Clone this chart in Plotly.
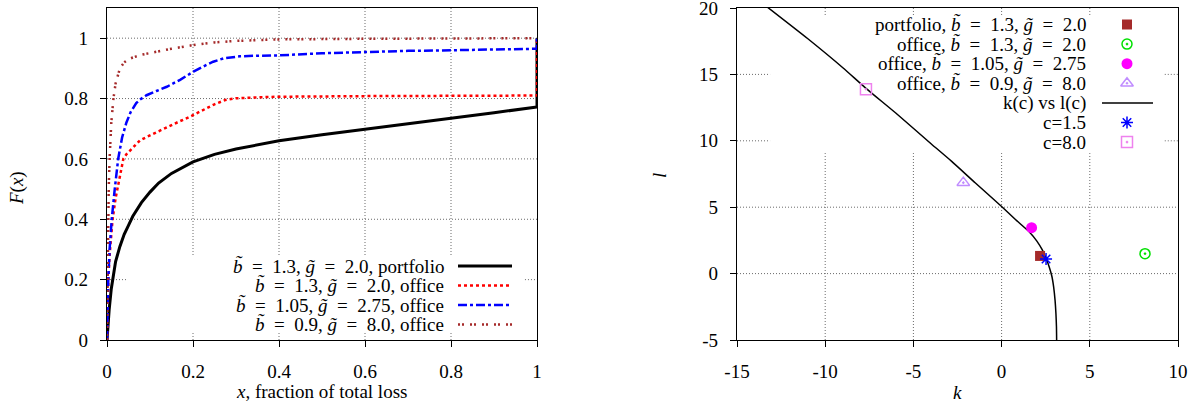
import plotly.graph_objects as go

W, H = 1203, 408
FONT = "Liberation Serif"
FS = 19
EQ = "\u2002=\u2002"  # wide spacing around "=" as in typeset math

# ---------------- left panel: F(x) curves ----------------
x_portfolio = [0, 0.002, 0.005, 0.01, 0.015, 0.02, 0.03, 0.04, 0.05, 0.06, 0.08, 0.1, 0.12,
               0.15, 0.2, 0.25, 0.3, 0.35, 0.4, 0.5, 0.6, 0.7, 0.8, 0.9, 1.0, 1.0]
F_portfolio = [0, 0.05, 0.1, 0.17, 0.22, 0.26, 0.31, 0.35, 0.38, 0.41, 0.455, 0.49, 0.52,
               0.552, 0.59, 0.615, 0.633, 0.647, 0.66, 0.68, 0.698, 0.715, 0.735, 0.753, 0.772, 1.0]

x_office_a = [0, 0.001, 0.003, 0.006, 0.01, 0.013, 0.02, 0.03, 0.038, 0.045, 0.053, 0.065,
              0.077, 0.1, 0.12, 0.139, 0.165, 0.193, 0.22, 0.25, 0.275, 0.3, 0.35, 0.4, 0.6,
              0.8, 1.0, 1.0]
F_office_a = [0, 0.08, 0.2, 0.28, 0.36, 0.4, 0.47, 0.55, 0.6, 0.615, 0.627, 0.647, 0.662,
              0.678, 0.692, 0.706, 0.722, 0.74, 0.76, 0.781, 0.795, 0.801, 0.804, 0.806, 0.808,
              0.809, 0.81, 1.0]

x_office_b = [0, 0.001, 0.003, 0.006, 0.011, 0.018, 0.026, 0.035, 0.045, 0.055, 0.061, 0.068,
              0.077, 0.092, 0.115, 0.139, 0.17, 0.201, 0.225, 0.247, 0.271, 0.309, 0.35, 0.4,
              0.5, 0.6, 0.7, 0.8, 0.9, 1.0, 1.0]
F_office_b = [0, 0.08, 0.2, 0.3, 0.4, 0.5, 0.6, 0.67, 0.72, 0.755, 0.77, 0.785, 0.797, 0.811,
              0.825, 0.839, 0.862, 0.889, 0.907, 0.922, 0.933, 0.94, 0.942, 0.943, 0.95, 0.955,
              0.958, 0.96, 0.963, 0.965, 1.0]

x_office_c = [0, 0.001, 0.002, 0.004, 0.006, 0.01, 0.015, 0.02, 0.03, 0.04, 0.05, 0.06, 0.08,
              0.1, 0.15, 0.2, 0.25, 0.3, 0.4, 0.6, 0.8, 1.0]
F_office_c = [0, 0.2, 0.35, 0.5, 0.6, 0.72, 0.8, 0.85, 0.9, 0.92, 0.93, 0.936, 0.945, 0.951,
              0.965, 0.977, 0.986, 0.991, 0.996, 0.998, 0.999, 1.0]

left_labels = [
    "<i>b\u0303</i>" + EQ + "1.3, <i>g\u0303</i>" + EQ + "2.0, portfolio",
    "<i>b\u0303</i>" + EQ + "1.3, <i>g\u0303</i>" + EQ + "2.0, office",
    "<i>b\u0303</i>" + EQ + "1.05, <i>g\u0303</i>" + EQ + "2.75, office",
    "<i>b\u0303</i>" + EQ + "0.9, <i>g\u0303</i>" + EQ + "8.0, office",
]
left_x = [x_portfolio, x_office_a, x_office_b, x_office_c]
left_F = [F_portfolio, F_office_a, F_office_b, F_office_c]
left_lines = [
    dict(color="#000000", width=3, dash="solid"),
    dict(color="#ff0000", width=2.5, dash="dot"),
    dict(color="#0000ff", width=2.5, dash="dashdot"),
    dict(color="#a52a2a", width=2.5, dash="2px,2px,2px,6px"),
]
left_ticks = [0, 0.2, 0.4, 0.6, 0.8, 1]
left_ticktext = ["0", "0.2", "0.4", "0.6", "0.8", "1"]

# ---------------- right panel: k vs l ----------------
k_curve = [-13.36, -11, -9, -7.69, -6, -4, -2.83, -1.5, 0, 0.8, 1.6, 2.0, 2.3, 2.52, 2.7,
           2.85, 2.95, 3.03, 3.08, 3.11, 3.12]
l_curve = [20.15, 17.7, 15.5, 13.95, 12.09, 9.78, 8.45, 6.84, 5.05, 4.05, 3.1, 2.45, 1.8, 1.15,
           0.5, -0.2, -1.0, -2.0, -3.0, -4.0, -5.0]

point_labels = [
    "portfolio, <i>b\u0303</i>" + EQ + "1.3, <i>g\u0303</i>" + EQ + "2.0",
    "office, <i>b\u0303</i>" + EQ + "1.3, <i>g\u0303</i>" + EQ + "2.0",
    "office, <i>b\u0303</i>" + EQ + "1.05, <i>g\u0303</i>" + EQ + "2.75",
    "office, <i>b\u0303</i>" + EQ + "0.9, <i>g\u0303</i>" + EQ + "8.0",
]
point_k = [2.18, 8.13, 1.70, -2.17]
point_l = [1.33, 1.5, 3.46, 6.85]

c_labels = ["c=1.5", "c=8.0"]
c_k = [2.52, -7.69]
c_l = [1.1, 13.88]

curve_label = "k(c) vs l(c)"

point_styles = [
    dict(symbol="square", color="#a52a2a", size=10, line=dict(width=0)),
    dict(symbol="circle-open-dot", color="#00e000", size=10, line=dict(width=1.5)),
    dict(symbol="circle", color="#ff00ff", size=11, line=dict(width=0)),
    dict(symbol="triangle-up-open-dot", color="#c08cff", size=11, line=dict(width=1.5)),
]
c_styles = [
    dict(symbol="asterisk-open", color="#0000ff", size=10, line=dict(width=1.5)),
    dict(symbol="square-open-dot", color="#ee82ee", size=11, line=dict(width=1.5)),
]
right_xticks = [-15, -10, -5, 0, 5, 10]
right_xtext = ["-15", "-10", "-5", "0", "5", "10"]
right_yticks = [-5, 0, 5, 10, 15, 20]
right_ytext = ["-5", "0", "5", "10", "15", "20"]

# ---------------- layout geometry (pixels) ----------------
L_X0, L_X1 = 107, 537
R_X0, R_X1 = 737, 1178
P_Y0, P_Y1 = 8, 340
L_XR, L_YR = [0, 1], [0, 1.1]
R_XR, R_YR = [-15, 10], [-5, 20]

# key boxes in axis-domain fractions: (x0, x1, y0, y1); the grid is not drawn inside them
LEFT_BOX = (0.0465, 0.972, 0.021, 0.256)
RIGHT_BOX = (0.075, 0.970, 0.563, 0.979)


def fx(px):
    return px / W


def fy(py):
    return 1 - py / H


def px_to_data(px, py, x0, x1, xr, yr):
    """Convert a page pixel inside a panel to that panel's data coordinates."""
    dx = xr[0] + (px - x0) / (x1 - x0) * (xr[1] - xr[0])
    dy = yr[0] + (P_Y1 - py) / (P_Y1 - P_Y0) * (yr[1] - yr[0])
    return dx, dy


fig = go.Figure()


# ---------------- dotted grid, broken around the key box ----------------
def add_grid(xa, ya, xticks, xr, yticks, yr, box):
    bx0, bx1, by0, by1 = box
    style = dict(color="#6a6a6a", width=1, dash="1px,2px")

    def dx(f):
        return xr[0] + f * (xr[1] - xr[0])

    def dy(f):
        return yr[0] + f * (yr[1] - yr[0])

    for t in xticks:
        f = (t - xr[0]) / (xr[1] - xr[0])
        if f <= 0.001 or f >= 0.999:
            continue
        segs = [(0, 1)] if not (bx0 < f < bx1) else [(0, by0), (by1, 1)]
        for s0, s1 in segs:
            fig.add_trace(go.Scatter(x=[t, t], y=[dy(s0), dy(s1)], mode="lines", line=style,
                                     xaxis=xa, yaxis=ya, showlegend=False, hoverinfo="skip"))
    for t in yticks:
        f = (t - yr[0]) / (yr[1] - yr[0])
        if f <= 0.001 or f >= 0.999:
            continue
        segs = [(0, 1)] if not (by0 < f < by1) else [(0, bx0), (bx1, 1)]
        for s0, s1 in segs:
            fig.add_trace(go.Scatter(x=[dx(s0), dx(s1)], y=[t, t], mode="lines", line=style,
                                     xaxis=xa, yaxis=ya, showlegend=False, hoverinfo="skip"))


add_grid("x", "y", left_ticks, L_XR, left_ticks, L_YR, LEFT_BOX)
add_grid("x2", "y2", right_xticks, R_XR, right_yticks, R_YR, RIGHT_BOX)

for xs, Fs, ln in zip(left_x, left_F, left_lines):
    fig.add_trace(go.Scatter(x=xs, y=Fs, mode="lines", line=ln, xaxis="x", yaxis="y",
                             showlegend=False, hoverinfo="skip"))

fig.add_trace(go.Scatter(x=k_curve, y=l_curve, mode="lines",
                         line=dict(color="black", width=1.5, shape="spline", smoothing=0.5),
                         xaxis="x2", yaxis="y2", showlegend=False, hoverinfo="skip"))
for k, l, st in zip(point_k, point_l, point_styles):
    fig.add_trace(go.Scatter(x=[k], y=[l], mode="markers", marker=st, xaxis="x2", yaxis="y2",
                             showlegend=False, hoverinfo="skip"))
for k, l, st in zip(c_k, c_l, c_styles):
    fig.add_trace(go.Scatter(x=[k], y=[l], mode="markers", marker=st, xaxis="x2", yaxis="y2",
                             showlegend=False, hoverinfo="skip"))

# ---------------- keys (text right-aligned, sample to the right) ----------------
annotations = []
key_font = dict(family=FONT, size=FS, color="black")

# left key
lk_top, lk_row, lk_text_r, lk_s0, lk_s1 = 266, 19.5, 446, 458, 512
for i, (lab, ln) in enumerate(zip(left_labels, left_lines)):
    yy = lk_top + i * lk_row
    annotations.append(dict(text=lab, xref="paper", yref="paper", x=fx(lk_text_r), y=fy(yy),
                            xanchor="right", yanchor="middle", showarrow=False, font=key_font))
    a = px_to_data(lk_s0, yy, L_X0, L_X1, L_XR, L_YR)
    b = px_to_data(lk_s1, yy, L_X0, L_X1, L_XR, L_YR)
    fig.add_trace(go.Scatter(x=[a[0], b[0]], y=[a[1], b[1]], mode="lines", line=ln,
                             xaxis="x", yaxis="y", showlegend=False, hoverinfo="skip"))

# right key
rk_top, rk_row, rk_text_r, rk_mark, rk_s0, rk_s1 = 24.5, 19.6, 1088, 1127, 1102, 1153
right_key = ([(lab, "m", st) for lab, st in zip(point_labels, point_styles)]
             + [(curve_label, "l", None)]
             + [(lab, "m", st) for lab, st in zip(c_labels, c_styles)])
for i, (lab, kind, st) in enumerate(right_key):
    yy = rk_top + i * rk_row
    annotations.append(dict(text=lab, xref="paper", yref="paper", x=fx(rk_text_r), y=fy(yy),
                            xanchor="right", yanchor="middle", showarrow=False, font=key_font))
    if kind == "m":
        m = px_to_data(rk_mark, yy, R_X0, R_X1, R_XR, R_YR)
        fig.add_trace(go.Scatter(x=[m[0]], y=[m[1]], mode="markers", marker=st,
                                 xaxis="x2", yaxis="y2", showlegend=False, hoverinfo="skip"))
    else:
        a = px_to_data(rk_s0, yy, R_X0, R_X1, R_XR, R_YR)
        b = px_to_data(rk_s1, yy, R_X0, R_X1, R_XR, R_YR)
        fig.add_trace(go.Scatter(x=[a[0], b[0]], y=[a[1], b[1]], mode="lines",
                                 line=dict(color="black", width=1.5),
                                 xaxis="x2", yaxis="y2", showlegend=False, hoverinfo="skip"))

# axis titles
annotations += [
    dict(text="<i>F</i>(<i>x</i>)", xref="paper", yref="paper", x=fx(17), y=fy(188),
         textangle=-90, showarrow=False, font=key_font, xanchor="center", yanchor="middle"),
    dict(text="<i>x</i>, fraction of total loss", xref="paper", yref="paper", x=fx(321),
         y=fy(391), showarrow=False, font=key_font, xanchor="center", yanchor="middle"),
    dict(text="<i>l</i>", xref="paper", yref="paper", x=fx(659), y=fy(176), textangle=-90,
         showarrow=False, font=key_font, xanchor="center", yanchor="middle"),
    dict(text="<i>k</i>", xref="paper", yref="paper", x=fx(957), y=fy(392),
         showarrow=False, font=key_font, xanchor="center", yanchor="middle"),
]

axis_common = dict(
    showline=True, linecolor="black", linewidth=1.3, mirror=True,
    ticks="outside", ticklen=6, tickcolor="black", tickwidth=1,
    showgrid=False, zeroline=False, tickfont=dict(family=FONT, size=FS, color="black"),
    fixedrange=True, automargin=False, ticklabeloverflow="allow", ticklabelstandoff=8,
)

ydom = [fy(P_Y1), fy(P_Y0)]
fig.update_layout(
    width=W, height=H, autosize=False,
    margin=dict(l=0, r=0, t=0, b=0, autoexpand=False),
    paper_bgcolor="white", plot_bgcolor="white",
    xaxis=dict(domain=[fx(L_X0), fx(L_X1)], range=L_XR, anchor="y",
               tickvals=left_ticks, ticktext=left_ticktext, **axis_common),
    yaxis=dict(domain=ydom, range=L_YR, anchor="x",
               tickvals=left_ticks, ticktext=left_ticktext, **axis_common),
    xaxis2=dict(domain=[fx(R_X0), fx(R_X1)], range=R_XR, anchor="y2",
                tickvals=right_xticks, ticktext=right_xtext, **axis_common),
    yaxis2=dict(domain=ydom, range=R_YR, anchor="x2",
                tickvals=right_yticks, ticktext=right_ytext, **axis_common),
    annotations=annotations,
    showlegend=False,
)

fig.write_html("out.html")
